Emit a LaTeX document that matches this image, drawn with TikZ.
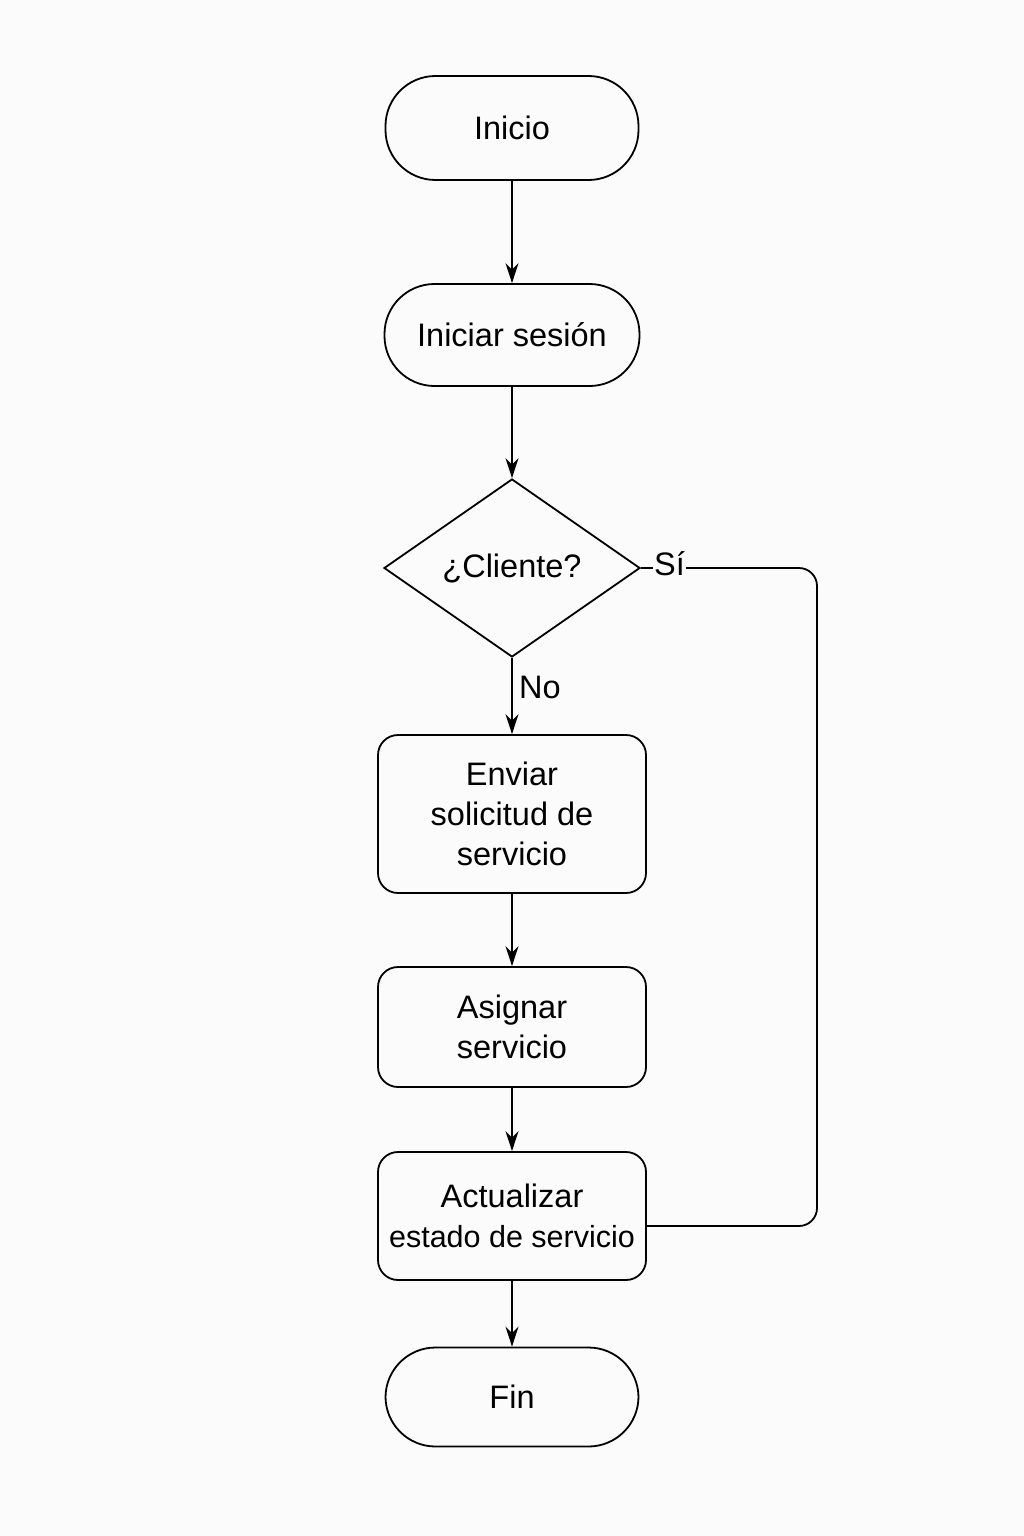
\documentclass[tikz,border=0pt]{standalone}
\usepackage{fontspec}
\setmainfont{Liberation Sans}
\usetikzlibrary{shapes.geometric,arrows.meta}
\definecolor{bgc}{HTML}{FBFBFB}
\begin{document}
\begin{tikzpicture}[x=1pt,y=-1pt,
  every node/.style={font=\fontsize{32.5}{40}\selectfont, text=black},
  term/.style={draw, line width=1.8pt, rounded corners=50pt, minimum width=253pt, minimum height=104pt, inner sep=0pt, align=center},
  proc/.style={draw, line width=1.8pt, rounded corners=20pt, minimum width=268pt, inner sep=0pt, align=center},
  dec/.style={draw, line width=1.8pt, diamond, minimum width=256pt, minimum height=178pt, inner sep=0pt, align=center},
  flow/.style={line width=1.8pt, -{Stealth[length=20pt,width=13pt]}},
  lbl/.style={inner sep=1pt}
]
\fill[bgc] (0,0) rectangle (1024,1536);
\useasboundingbox (0,0) rectangle (1024,1536);

\node[term] (inicio) at (512,128) {Inicio};
\node[term, minimum width=255pt, minimum height=102pt] (sesion) at (512,335) {Iniciar sesión};
\node[dec] (cliente) at (512,568) {¿Cliente?};
\node[proc, minimum height=158pt] (enviar) at (512,814) {Enviar\\solicitud de\\servicio};
\node[proc, minimum height=120pt] (asignar) at (512,1027) {Asignar\\servicio};
\node[proc, minimum height=128pt] (actual) at (512,1216) {Actualizar\\{\fontsize{30.5}{38}\selectfont estado de servicio}};
\node[term, minimum height=99pt] (fin) at (512,1397) {Fin};

\draw[flow] (inicio.south) -- (sesion.north);
\draw[flow] (sesion.south) -- (cliente.north);
\draw[flow] (cliente.south) -- (enviar.north);
\draw[flow] (enviar.south) -- (asignar.north);
\draw[flow] (asignar.south) -- (actual.north);
\draw[flow] (actual.south) -- (fin.north);

\coordinate (sicol) at (817,0);
\coordinate (actin) at ([yshift=-10pt]actual.east);
\draw[line width=1.8pt, rounded corners=18pt] (cliente.east) -- (cliente.east -| sicol) -- (actin -| sicol) -- (actin);
\node[lbl, fill=bgc, anchor=west] (si) at (653,564) {Sí};
\node[lbl, anchor=west] (no) at (518,687) {No};
\end{tikzpicture}
\end{document}
